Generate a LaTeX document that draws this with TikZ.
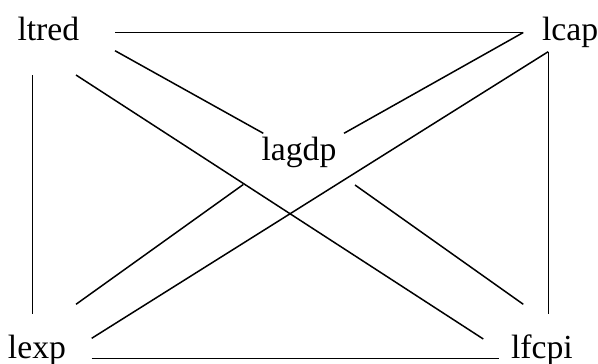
\documentclass[tikz,border=0pt]{standalone}
\usepackage{fontspec}
\setmainfont{Liberation Serif}
\begin{document}
\begin{tikzpicture}[x=1pt,y=-1pt,
  lbl/.style={anchor=base west,inner sep=0pt,outer sep=0pt,font=\fontsize{33.7}{40}\selectfont},
  conn/.style={line width=1.5pt,line cap=butt}]
\useasboundingbox (0,0) rectangle (598,364);
\node[lbl] (ltred) at (17.5,40) {ltred};
\node[lbl] (lcap) at (542,40) {lcap};
\node[lbl] (lagdp) at (261.5,160) {lagdp};
\node[lbl] (lexp) at (8,358.3) {lexp};
\node[lbl] (lfcpi) at (511,358.3) {lfcpi};
% ltred connectors
\draw[conn] ([shift={(97.5,-7.5)}]ltred.base west) -- ([shift={(-18.7,-7.5)}]lcap.base west);
\draw[conn] ([shift={(97.5,10.7)}]ltred.base west) -- ([shift={(1.8,-26.7)}]lagdp.base west);
\draw[conn] ([shift={(58.5,35)}]ltred.base west) -- ([shift={(-27.7,-19.3)}]lfcpi.base west);
\draw[conn] ([shift={(14.8,35)}]ltred.base west) -- ([shift={(24.3,-44)}]lexp.base west);
% lcap connectors
\draw[conn] ([shift={(-18.7,-7.5)}]lcap.base west) -- ([shift={(82.5,-26.7)}]lagdp.base west);
\draw[conn] ([shift={(6.2,11.7)}]lcap.base west) -- ([shift={(83.7,-20)}]lexp.base west);
\draw[conn] ([shift={(6.5,11.7)}]lcap.base west) -- ([shift={(37.5,-44)}]lfcpi.base west);
% lagdp connectors
\draw[conn] ([shift={(-18.2,24.5)}]lagdp.base west) -- ([shift={(68,-54)}]lexp.base west);
\draw[conn] ([shift={(93.5,25)}]lagdp.base west) -- ([shift={(12.3,-54)}]lfcpi.base west);
% lexp -- lfcpi
\draw[conn] ([shift={(83.7,0.2)}]lexp.base west) -- ([shift={(-11.7,0.2)}]lfcpi.base west);
\end{tikzpicture}
\end{document}
